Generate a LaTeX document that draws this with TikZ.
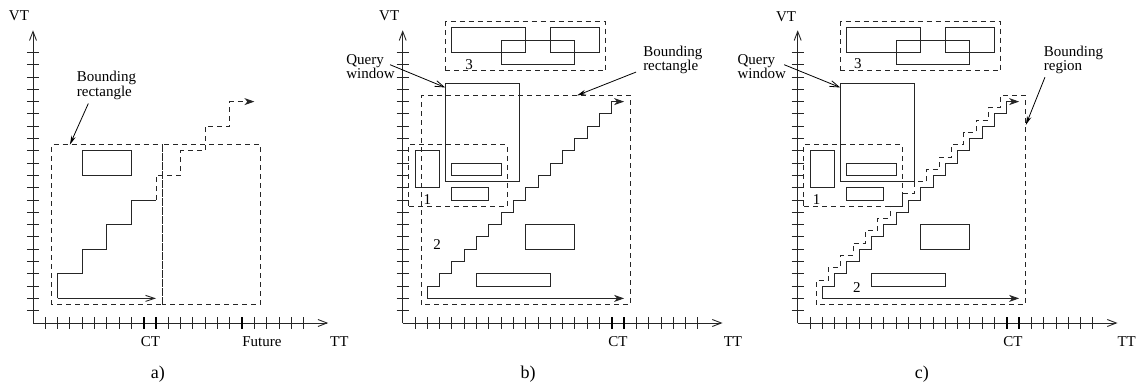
\documentclass[tikz,border=0pt]{standalone}
\usepackage{fontspec}
\setmainfont{Liberation Serif}
\usetikzlibrary{arrows.meta}
\tikzset{
  ln/.style={line width=0.9pt, draw=black!85},
  dbox/.style={ln, dash pattern=on 5pt off 4pt},
  axisarrow/.style={ln, -{Straight Barb[length=9pt,width=7pt]}},
  ctk/.style={line width=2.4pt, draw=black},
  traj/.style={ln, -{Stealth[length=10pt,width=7pt,inset=3pt]}},
  trajopen/.style={ln, -{Straight Barb[length=9pt,width=6pt]}},
  labarrow/.style={line width=0.8pt, draw=black, -{Stealth[length=9pt,width=4.5pt]}},
  qarrow/.style={line width=0.8pt, draw=black, -{Straight Barb[length=9pt,width=6pt]}},
  lab/.style={font=\fontsize{15}{11}\selectfont, inner sep=0pt, align=left},
  plab/.style={font=\fontsize{18}{20}\selectfont, inner sep=0pt},
}
\begin{document}
\begin{tikzpicture}[x=1pt,y=1pt]
\useasboundingbox (0,0) rectangle (1140,389);

% ---------------- panel a ----------------
\begin{scope}[shift={(33pt,66pt)}, x=12.3pt, y=12.3pt]
  \draw[axisarrow] (0,0) -- (24,0);
  \draw[axisarrow] (0,0) -- (0,23.8);
  \foreach \i in {1,...,22} \draw[ln] (\i,-0.45) -- (\i,0.45);
  \foreach \j in {1,...,22} \draw[ln] (-0.5,\j) -- (0.5,\j);
  \foreach \i in {9,10,17} \draw[ctk] (\i,-0.45) -- (\i,0.45);
  \draw[dbox] (1.5,1.5) rectangle (10.5,14.5);
  \draw[dbox] (10.5,1.5) rectangle (18.5,14.5);
  \draw[ln] (4,12) rectangle (8,14);
  \draw[trajopen] (2,2) -- (10,2);
  \draw[ln] (2,2) -- (2,4) -- (4,4) -- (4,6) -- (6,6) -- (6,8) -- (8,8) -- (8,10) -- (10,10);
  \draw[dbox, -{Stealth[length=10pt,width=7pt,inset=3pt]}] (10,10) -- (10,12) -- (12,12) -- (12,14) -- (14,14) -- (14,16) -- (16,16) -- (16,18) -- (18,18);
  \node[lab] (aVT) at (-1.14,24.95) {VT};
  \node[lab] (aTT) at (24.9,-1.55) {TT};
  \node[lab] (aCT) at (9.55,-1.55) {CT};
  \node[lab, anchor=west] (aFut) at (17.0,-1.55) {Future};
  \node[plab] (aCap) at (10.16,-4.2) {a)};
  \node[lab, anchor=west] (aBR) at (3.55,19.3) {Bounding\\rectangle};
  \coordinate (aBRs) at (4.5,17.85);
  \coordinate (aBRt) at (3.0,14.5);
  \draw[labarrow] (aBRs) -- (aBRt);
\end{scope}

% ---------------- panel b ----------------
\begin{scope}[shift={(402.7pt,66pt)}, x=12.3pt, y=12.3pt]
  \draw[axisarrow] (0,0) -- (26,0);
  \draw[axisarrow] (0,0) -- (0,23.8);
  \foreach \i in {1,...,24} \draw[ln] (\i,-0.45) -- (\i,0.45);
  \foreach \j in {1,...,22} \draw[ln] (-0.5,\j) -- (0.5,\j);
  \foreach \i in {17,18} \draw[ctk] (\i,-0.45) -- (\i,0.45);
  \draw[dbox] (1.5,1.5) rectangle (18.5,18.5);
  \draw[dbox] (0.5,9.5) rectangle (8.5,14.5);
  \draw[dbox] (3.5,20.5) rectangle (16.5,24.5);
  \draw[ln] (4,22) rectangle (10,24);
  \draw[ln] (12,22) rectangle (16,24);
  \draw[ln] (8,21) rectangle (14,23);
  \draw[ln] (3.5,11.5) rectangle (9.5,19.5);
  \draw[ln] (1,11) rectangle (3,14);
  \draw[ln] (4,12) rectangle (8,13);
  \draw[ln] (4,10) rectangle (7,11);
  \draw[ln] (10,6) rectangle (14,8);
  \draw[ln] (6,3) rectangle (12,4);
  \draw[traj] (2,2) -- (18,2);
  \draw[traj] (2,2) \foreach \k in {2,...,16}{ -- (\k,{\k+1}) -- ({\k+1},{\k+1}) } -- (17,18) -- (18,18);
  \node[lab] (bVT) at (-1.1,24.95) {VT};
  \node[lab] (bTT) at (26.85,-1.55) {TT};
  \node[lab] (bCT) at (17.5,-1.55) {CT};
  \node[plab] (bCap) at (10.2,-4.2) {b)};
  \node[lab] (b1) at (2.0,10.0) {1};
  \node[lab] (b2) at (2.8,6.35) {2};
  \node[lab] (b3) at (5.4,21.0) {3};
  \node[lab, anchor=west] (bQW) at (-4.6,20.85) {Query\\window};
  \coordinate (bQWs) at (-1.03,21.0);
  \coordinate (bQWt) at (3.45,19.15);
  \draw[qarrow] (bQWs) -- (bQWt);
  \node[lab, anchor=west] (bBR) at (19.54,21.4) {Bounding\\rectangle};
  \coordinate (bBRs) at (18.97,20.4);
  \coordinate (bBRt) at (14.17,18.5);
  \draw[labarrow] (bBRs) -- (bBRt);
\end{scope}

% ---------------- panel c ----------------
\begin{scope}[shift={(797.7pt,66pt)}, x=12.3pt, y=12.3pt]
  \draw[axisarrow] (0,0) -- (26,0);
  \draw[axisarrow] (0,0) -- (0,23.8);
  \foreach \i in {1,...,24} \draw[ln] (\i,-0.45) -- (\i,0.45);
  \foreach \j in {1,...,22} \draw[ln] (-0.5,\j) -- (0.5,\j);
  \foreach \i in {17,18} \draw[ctk] (\i,-0.45) -- (\i,0.45);
  \draw[dbox] (1.5,1.5) -- (1.5,3.5) \foreach \k in {2,...,16}{ -- ({\k+0.5},{\k+1.5}) -- ({\k+0.5},{\k+2.5}) } -- (18.5,18.5) -- (18.5,1.5) -- cycle;
  \draw[dbox] (0.5,9.5) rectangle (8.5,14.5);
  \draw[dbox] (3.5,20.5) rectangle (16.5,24.5);
  \draw[ln] (4,22) rectangle (10,24);
  \draw[ln] (12,22) rectangle (16,24);
  \draw[ln] (8,21) rectangle (14,23);
  \draw[ln] (3.5,11.5) rectangle (9.5,19.5);
  \draw[ln] (1,11) rectangle (3,14);
  \draw[ln] (4,12) rectangle (8,13);
  \draw[ln] (4,10) rectangle (7,11);
  \draw[ln] (10,6) rectangle (14,8);
  \draw[ln] (6,3) rectangle (12,4);
  \draw[traj] (2,2) -- (18,2);
  \draw[traj] (2,2) \foreach \k in {2,...,16}{ -- (\k,{\k+1}) -- ({\k+1},{\k+1}) } -- (17,18) -- (18,18);
  \node[lab] (cVT) at (-0.95,24.9) {VT};
  \node[lab] (cTT) at (26.75,-1.55) {TT};
  \node[lab] (cCT) at (17.5,-1.55) {CT};
  \node[plab] (cCap) at (10.1,-4.15) {c)};
  \node[lab] (c1) at (1.54,10.05) {1};
  \node[lab] (c2) at (4.8,2.9) {2};
  \node[lab] (c3) at (4.9,21.1) {3};
  \node[lab, anchor=west] (cQW) at (-4.9,20.85) {Query\\window};
  \coordinate (cQWs) at (-1.1,21.0);
  \coordinate (cQWt) at (3.45,19.15);
  \draw[qarrow] (cQWs) -- (cQWt);
  \node[lab, anchor=west] (cBR) at (20.0,21.4) {Bounding\\region};
  \coordinate (cBRs) at (20.1,19.98);
  \coordinate (cBRt) at (18.55,16.1);
  \draw[labarrow] (cBRs) -- (cBRt);
\end{scope}
\end{tikzpicture}
\end{document}
